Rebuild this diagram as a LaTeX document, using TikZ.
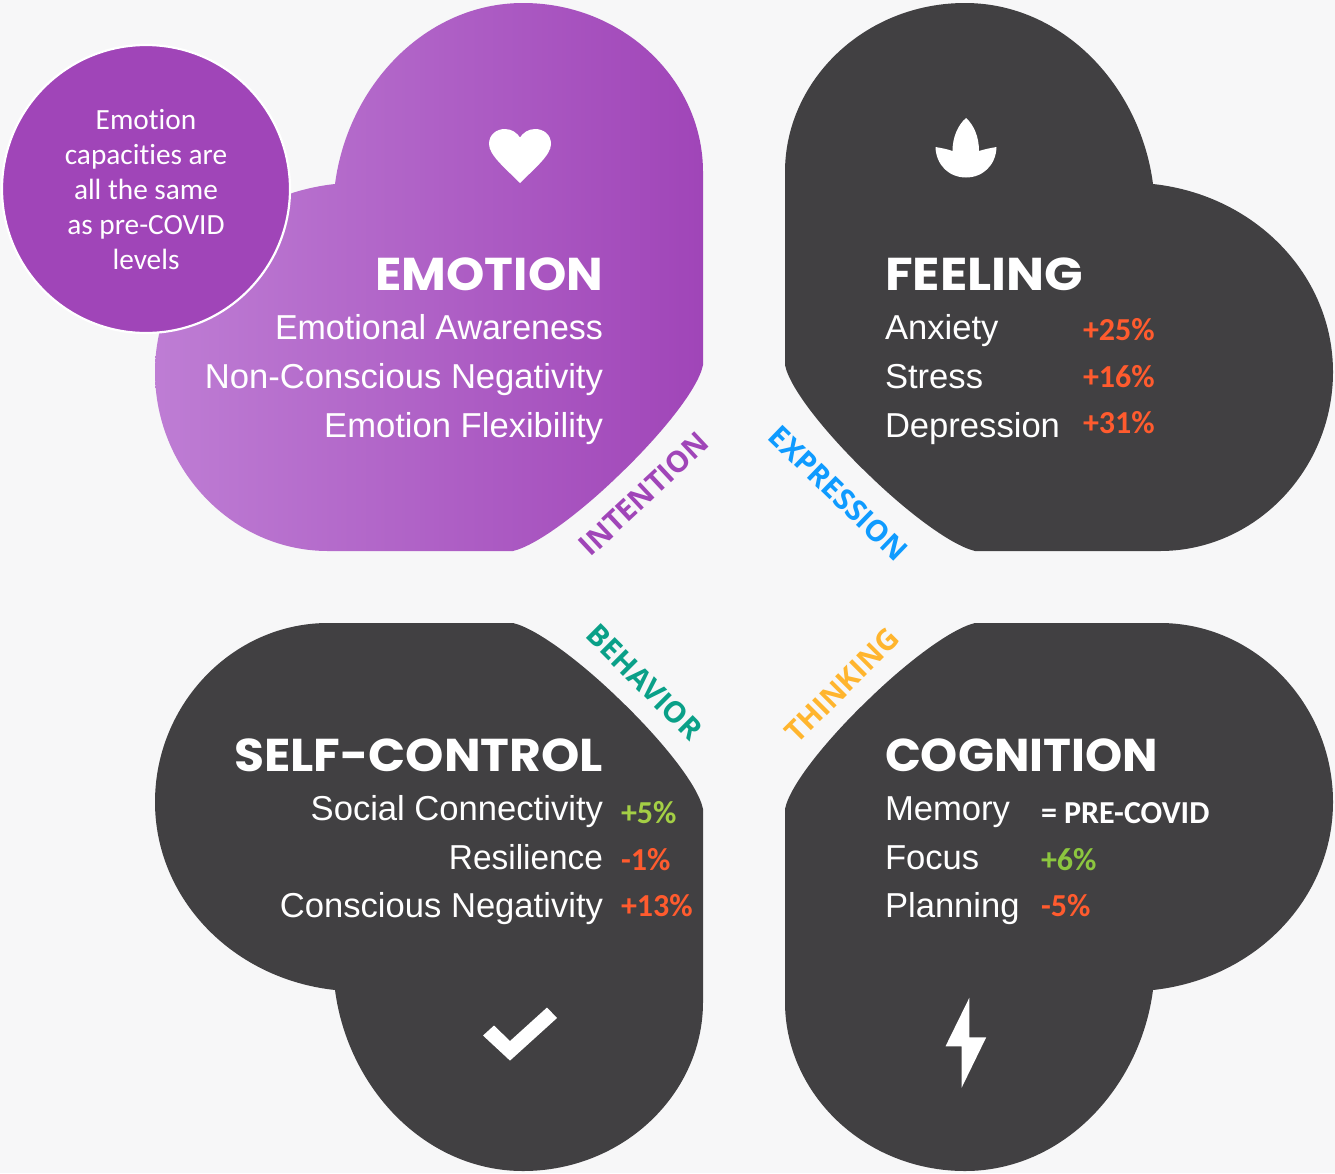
\documentclass[tikz,border=0pt]{standalone}
\usepackage{fontspec}
\setmainfont{Liberation Sans}
\newfontfamily\headfont{Poppins}
\newfontfamily\calfont[Ligatures=NoCommon]{Carlito}
\newfontfamily\labfont{Open Sans}
\definecolor{bgc}{HTML}{F7F7F8}
\definecolor{dark}{HTML}{414042}
\definecolor{purp}{HTML}{A045B8}
\definecolor{purpl}{HTML}{BE7DD4}
\definecolor{orng}{HTML}{FF5B2E}
\definecolor{grn}{HTML}{8CC63F}
\definecolor{grnl}{HTML}{A4CF45}
\definecolor{expc}{HTML}{0F9BFF}
\definecolor{behc}{HTML}{0AA088}
\definecolor{thic}{HTML}{FFB52E}
\newcommand{\petalpath}{(785,172) .. controls (785,80) and (865,3) .. (965,3) .. controls (1062,3) and (1140,85) .. (1153,184) .. controls (1255,195) and (1333,275) .. (1333,372) .. controls (1333,470) and (1255,551) .. (1160,551) -- (975,551) .. controls (950,545) and (905,510) .. (870,476) .. controls (830,438) and (790,390) .. (785,365) -- cycle}
\tikzset{
  x=1pt,y=-1pt,
  inner sep=0pt,outer sep=0pt,
  petal/.style={fill=dark,draw=none},
  icon/.style={fill=white,draw=none},
  headtxt/.style={text=white,font=\headfont\bfseries\fontsize{46}{46}\selectfont},
  bodytxt/.style={text=white,font=\fontsize{34.6}{34.6}\selectfont},
  pcttxt/.style={anchor=base west,font=\calfont\bfseries\fontsize{32}{32}\selectfont},
  circtxt/.style={text=white,align=center,font=\calfont\fontsize{29.3}{35}\selectfont},
  lab/.style={font=\labfont\bfseries\fontsize{29.3}{29.3}\selectfont},
}
\begin{document}
\begin{tikzpicture}
\useasboundingbox (0,0) rectangle (1335,1173);
\fill[bgc] (0,0) rectangle (1335,1173);
% petals
\begin{scope}[cm={-1,0,0,1,(1488pt,0pt)}]
  \path[left color=purpl,right color=purp,draw=none] \petalpath;
\end{scope}
\fill[petal] \petalpath;
\begin{scope}[cm={1,0,0,-1,(0pt,-1174pt)}]
  \fill[petal] \petalpath;
\end{scope}
\begin{scope}[cm={-1,0,0,-1,(1488pt,-1174pt)}]
  \fill[petal] \petalpath;
\end{scope}
% circle
\filldraw[fill=purp,draw=white,line width=2.2pt] (146,189) circle[radius=144];
\node[circtxt] (circtext) at (146,190) {Emotion\\capacities are\\all the same\\as pre-COVID\\levels};
% icons
\fill[icon] (520,183) .. controls (505,168) and (489,155) .. (489,144) .. controls (489,134) and (497,129) .. (505,129) .. controls (512,129) and (517,133) .. (520,137.5) .. controls (523,133) and (528,129) .. (535,129) .. controls (543,129) and (551,134) .. (551,144) .. controls (551,155) and (535,168) .. (520,183) -- cycle;
\fill[icon] (966,118) .. controls (974,125) and (979,137) .. (979,151) .. controls (985,149) and (991,148) .. (996.5,147) .. controls (996,165) and (983,177.5) .. (966,177.5) .. controls (949,177.5) and (936,165) .. (935.5,147) .. controls (941,148) and (947,149) .. (952.5,151) .. controls (952.5,137) and (958,125) .. (966,118) -- cycle;
\fill[icon] (483,1035.5) -- (494,1025.5) -- (510,1041) -- (547,1007.5) -- (557,1018) -- (510,1060.6) -- cycle;
\fill[icon] (969.3,997.8) -- (945.5,1046.3) -- (961.7,1046.3) -- (961.7,1087.6) -- (986.2,1037.3) -- (969.3,1037.3) -- cycle;
% EMOTION
\node[headtxt,anchor=base east,xscale=1.06] (emoh) at (603,290) {EMOTION};
\node[bodytxt,anchor=base east,xscale=.982] (emo1) at (603,339) {Emotional Awareness};
\node[bodytxt,anchor=base east] (emo2) at (603,388) {Non-Conscious Negativity};
\node[bodytxt,anchor=base east] (emo3) at (603,437) {Emotion Flexibility};
% FEELING
\node[headtxt,anchor=base west,xscale=1.1] (feeh) at (885,290) {FEELING};
\node[bodytxt,anchor=base west] (fee1) at (885,339) {Anxiety};
\node[bodytxt,anchor=base west] (fee2) at (885,388) {Stress};
\node[bodytxt,anchor=base west] (fee3) at (885,437) {Depression};
\node[pcttxt,text=orng] (feep1) at (1083,340) {+25\%};
\node[pcttxt,text=orng] (feep2) at (1083,387) {+16\%};
\node[pcttxt,text=orng] (feep3) at (1083,433) {+31\%};
% SELF-CONTROL
\node[headtxt,anchor=base east,xscale=1.06] (selh) at (603,771) {SELF-CONTROL};
\node[bodytxt,anchor=base east] (sel1) at (603,820) {Social Connectivity};
\node[bodytxt,anchor=base east,xscale=.965] (sel2) at (603,869) {Resilience};
\node[bodytxt,anchor=base east] (sel3) at (603,917) {Conscious Negativity};
\node[pcttxt,text=grnl] (selp1) at (621,823) {+5\%};
\node[pcttxt,text=orng] (selp2) at (621,870) {-1\%};
\node[pcttxt,text=orng] (selp3) at (621,916) {+13\%};
% COGNITION
\node[headtxt,anchor=base west,xscale=1.026] (cogh) at (885,771) {COGNITION};
\node[bodytxt,anchor=base west] (cog1) at (885,820) {Memory};
\node[bodytxt,anchor=base west] (cog2) at (885,869) {Focus};
\node[bodytxt,anchor=base west] (cog3) at (885,917) {Planning};
\node[pcttxt,text=white] (cogp1) at (1041,823) {= PRE-COVID};
\node[pcttxt,text=grn] (cogp2) at (1041,870) {+6\%};
\node[pcttxt,text=orng] (cogp3) at (1041,916) {-5\%};
% rotated labels
\node[lab,text=purp,rotate=43] (intent) at (644,494) {INTENTION};
\node[lab,text=expc,rotate=-44] (expr) at (838.5,493.5) {EXPRESSION};
\node[lab,text=behc,rotate=-45] (behav) at (644.5,682) {BEHAVIOR};
\node[lab,text=thic,rotate=45] (think) at (842,685.5) {THINKING};
\end{tikzpicture}
\end{document}
